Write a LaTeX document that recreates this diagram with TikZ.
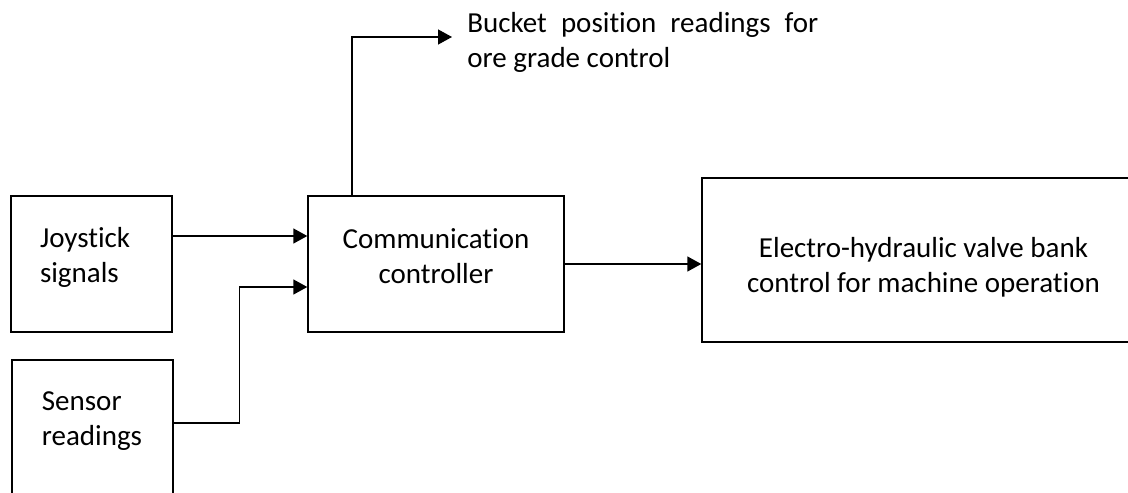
\documentclass[tikz,border=0pt]{standalone}
\usepackage{fontspec}
\setmainfont{Carlito}[Ligatures=NoCommon]
\usetikzlibrary{arrows.meta,positioning,calc}
\tikzset{
  block/.style={draw, line width=0.7pt, inner sep=0pt, align=center},
  arr/.style={-{Triangle[length=7pt,width=7.5pt]}, line width=0.7pt}
}

\begin{document}
\begin{tikzpicture}[x=0.5pt,y=-0.5pt,font=\fontsize{14.5pt}{17.5pt}\selectfont]
  \clip (0,0) rectangle (1128,492);

  % inputs
  \node[block, align=left, text width=51.5pt, inner xsep=14.5pt, minimum height=68pt, text depth=27pt] (joy) at (91.5,264) {Joystick\\signals};
  \node[block, minimum width=80.5pt, minimum height=80pt] (sensor) at (92.5,440) {};
  \node[align=left, inner sep=0pt] (sensortxt) at (92,421) {Sensor\\readings};

  % controller and outputs
  \node[block, minimum width=128pt, minimum height=68pt, text depth=8pt] (comm) at (436,264) {Communication\\controller};
  \node[block, minimum width=221.5pt, minimum height=82pt, text height=32pt, text depth=0pt] (valve) at (923.5,260) {Electro-hydraulic valve bank\\control for machine operation};
  \node[align=justify, text width=175.5pt, inner sep=0pt, anchor=north west] (bucket) at (467,12) {Bucket position readings for ore grade control};
  \coordinate (tip) at (452,37);

  \draw[arr] ([yshift=14pt]joy.east) -- ([yshift=14pt]comm.west);
  \draw[arr] ([yshift=8.5pt]sensor.east) -- ++(66,0) |- ([yshift=-11.5pt]comm.west);
  \draw[arr] ([xshift=-42pt]comm.north) |- (tip);
  \draw[arr] (comm.east) -- (comm.east -| valve.west);
\end{tikzpicture}
\end{document}
